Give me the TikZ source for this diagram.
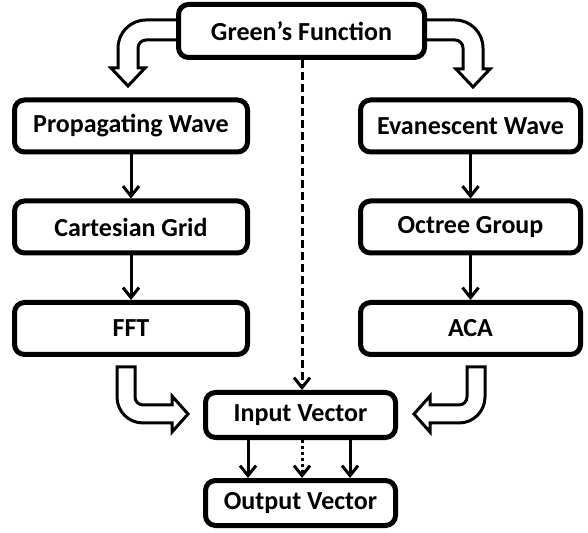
\documentclass[tikz,border=0pt]{standalone}
\usepackage{fontspec}
\setmainfont{Carlito}
\usetikzlibrary{arrows.meta}
\tikzset{
  box/.style={draw, line width=2.5pt, rounded corners=5pt, fill=white, inner sep=0pt,
    minimum width=116.5pt, minimum height=26pt, font=\fontsize{13}{15}\selectfont\bfseries},
  thin/.style={line width=1.5pt, -{Straight Barb[length=5pt,width=8pt,line width=1.5pt]}},
  hollow/.style={line width=1.5pt, line join=miter, fill=white},
}
\begin{document}
\begin{tikzpicture}[x=0.5pt, y=-0.5pt]
\useasboundingbox (0,0) rectangle (588,533);
% hollow arrows
\draw[hollow] (182,20) -- (146,20) .. controls (130.5,20) and (118,32.5) .. (118,48) -- (118,68) -- (111,68) -- (128,86) -- (145,68) -- (138,68) -- (138,48) .. controls (138,43.6) and (141.6,40) .. (146,40) -- (182,40);
\draw[hollow] (421,20) -- (455,20) .. controls (470.5,20) and (483,32.5) .. (483,48) -- (483,69) -- (490,69) -- (473,87) -- (456,69) -- (463,69) -- (463,48) .. controls (463,43.6) and (459.4,40) .. (455,40) -- (421,40);
\draw[hollow] (117,367) -- (117,397) .. controls (117,411.4) and (128.6,423) .. (143,423) -- (172,423) -- (172,432) -- (188,414) -- (172,396) -- (172,405) -- (143,405) .. controls (138.6,405) and (135,401.4) .. (135,397) -- (135,367) -- cycle;
\draw[hollow] (485,367) -- (485,397) .. controls (485,411.4) and (473.4,423) .. (459,423) -- (430,423) -- (430,432) -- (414,414) -- (430,396) -- (430,405) -- (459,405) .. controls (463.4,405) and (467,401.4) .. (467,397) -- (467,367) -- cycle;
% boxes
\node[box, minimum width=123pt, minimum height=26.5pt] (g) at (301.5,31) {Green’s Function};
\node[box] (pw) at (131,126) {Propagating Wave};
\node[box, minimum width=110pt] (ew) at (470.5,126) {Evanescent Wave};
\node[box] (cg) at (131,227) {Cartesian Grid};
\node[box, minimum width=110pt] (og) at (470.5,227) {Octree Group};
\node[box] (fft) at (131,328.5) {FFT};
\node[box, minimum width=110pt] (aca) at (470.5,328.5) {ACA};
\node[box, minimum width=95pt, minimum height=22.5pt] (in) at (300.5,415) {Input Vector};
\node[box, minimum width=95pt, minimum height=22.5pt] (out) at (300.5,503) {Output Vector};
% connectors
\draw[thin] (pw) -- (cg);
\draw[thin] (cg) -- (fft);
\draw[thin] (ew) -- (og);
\draw[thin] (og) -- (aca);
\draw[thin, dash pattern=on 4pt off 2pt] (g.south -| 302,0) -- (in.north -| 302,0);
\draw[thin] (in.south -| 248,0) -- (out.north -| 248,0);
\draw[thin] (in.south -| 350,0) -- (out.north -| 350,0);
\draw[thin, dash pattern=on 1.5pt off 1.5pt] (in.south -| 302,0) -- (out.north -| 302,0);
\end{tikzpicture}
\end{document}
